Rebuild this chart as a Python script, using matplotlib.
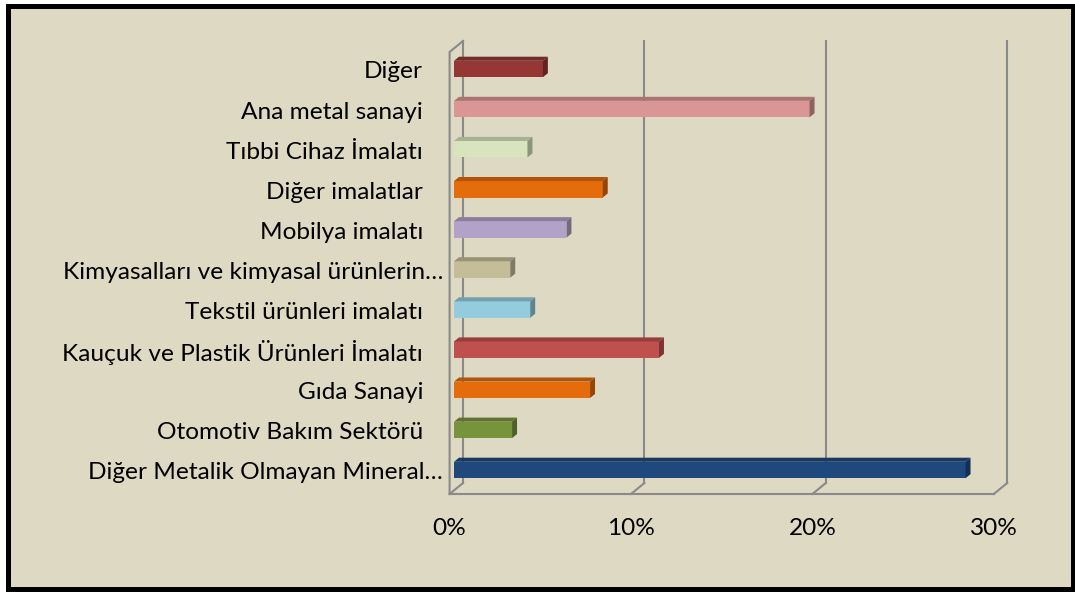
import matplotlib
matplotlib.use('Agg')
import matplotlib.pyplot as plt
import matplotlib.transforms as mtransforms
from matplotlib.patches import Rectangle, Polygon
import matplotlib.colors as mcolors

# data, bottom to top
sectors = ['Diğer Metalik Olmayan Mineral…', 'Otomotiv Bakım Sektörü', 'Gıda Sanayi',
           'Kauçuk ve Plastik Ürünleri İmalatı', 'Tekstil ürünleri imalatı',
           'Kimyasalları ve kimyasal ürünlerin…', 'Mobilya imalatı', 'Diğer imalatlar',
           'Tıbbi Cihaz İmalatı', 'Ana metal sanayi', 'Diğer']
shares = [28.2, 3.2, 7.5, 11.3, 4.2, 3.1, 6.2, 8.2, 4.05, 19.6, 4.9]
bar_colors = ['#1F497D', '#77933C', '#E46C0A', '#C0504D', '#93CDDD', '#C4BD97',
              '#B3A2C7', '#E46C0A', '#D7E4BD', '#D99694', '#953735']
xticks = [0, 10, 20, 30]
xtick_labels = ['0%', '10%', '20%', '30%']

plt.rcParams['font.family'] = ['Lato', 'DejaVu Sans']
FS = 17.6
BG = '#DDD9C3'
GRID = '#8A8A8A'

W, H = 1075, 595
fig = plt.figure(figsize=(W / 100, H / 100), dpi=100, facecolor='white')

# outer frame
fig.patches.append(Rectangle((8 / W, (H - 589) / H), 1064.5 / W, 583.5 / H,
                             transform=fig.transFigure, facecolor=BG,
                             edgecolor='black', linewidth=3.6, zorder=-5))

# plot area (front floor edge at bottom, back wall top at top)
ax = fig.add_axes([449.6 / W, (H - 494) / H, (1007 - 449.6) / W, (494 - 41) / H])
ax.patch.set_visible(False)
for s in ax.spines.values():
    s.set_visible(False)
x_top = (1007 - 449.6) / 18.14
y0, y_top = -0.599, 10.698
ax.set_xlim(0, x_top)
ax.set_ylim(y0, y_top)

# depth of the 3d box in data units
DX, DY = 0.739, 0.274

# walls and grid
for t in xticks:
    ax.plot([t + DX, t + DX], [y0 + DY, y_top], color=GRID, lw=1.5, clip_on=False)
    ax.plot([t, t + DX], [y0, y0 + DY], color=GRID, lw=1.5, clip_on=False)
ax.plot([0, xticks[-1]], [y0, y0], color=GRID, lw=1.5, clip_on=False)
ax.plot([0, 0, DX], [y0, y_top - DY, y_top], color=GRID, lw=1.5, clip_on=False)


def shade(c, f):
    r, g, b = mcolors.to_rgb(c)
    return (r * f, g * f, b * f)


# 3d bars
f0, bd, h = 0.33, 0.37, 0.41
for i, (v, c) in enumerate(zip(shares, bar_colors)):
    x0 = f0 * DX
    lo, hi = i - h / 2, i + h / 2
    ax.add_patch(Rectangle((x0, lo), v, h, facecolor=c, edgecolor='none', zorder=3))
    ax.add_patch(Polygon([(x0, hi), (x0 + v, hi), (x0 + v + bd * DX, hi + bd * DY),
                          (x0 + bd * DX, hi + bd * DY)], closed=True,
                         facecolor=shade(c, 0.78), edgecolor='none', zorder=3))
    ax.add_patch(Polygon([(x0 + v, lo), (x0 + v + bd * DX, lo + bd * DY),
                          (x0 + v + bd * DX, hi + bd * DY), (x0 + v, hi)], closed=True,
                         facecolor=shade(c, 0.65), edgecolor='none', zorder=3))

# category labels (truncated ones sit closer to the axis)
for i, name in enumerate(sectors):
    dx = -6.6 if name.endswith('…') else -26.6
    tr = mtransforms.offset_copy(ax.transData, fig=fig, x=dx, y=-3, units='dots')
    ax.text(0, i, name, transform=tr, ha='right', va='center', fontsize=FS,
            color='black')

ax.set_yticks([])
ax.set_xticks(xticks)
ax.set_xticklabels(xtick_labels, fontsize=FS)
ax.tick_params(axis='x', length=0, pad=17)

fig.savefig('out.png', dpi=100, facecolor='white')
